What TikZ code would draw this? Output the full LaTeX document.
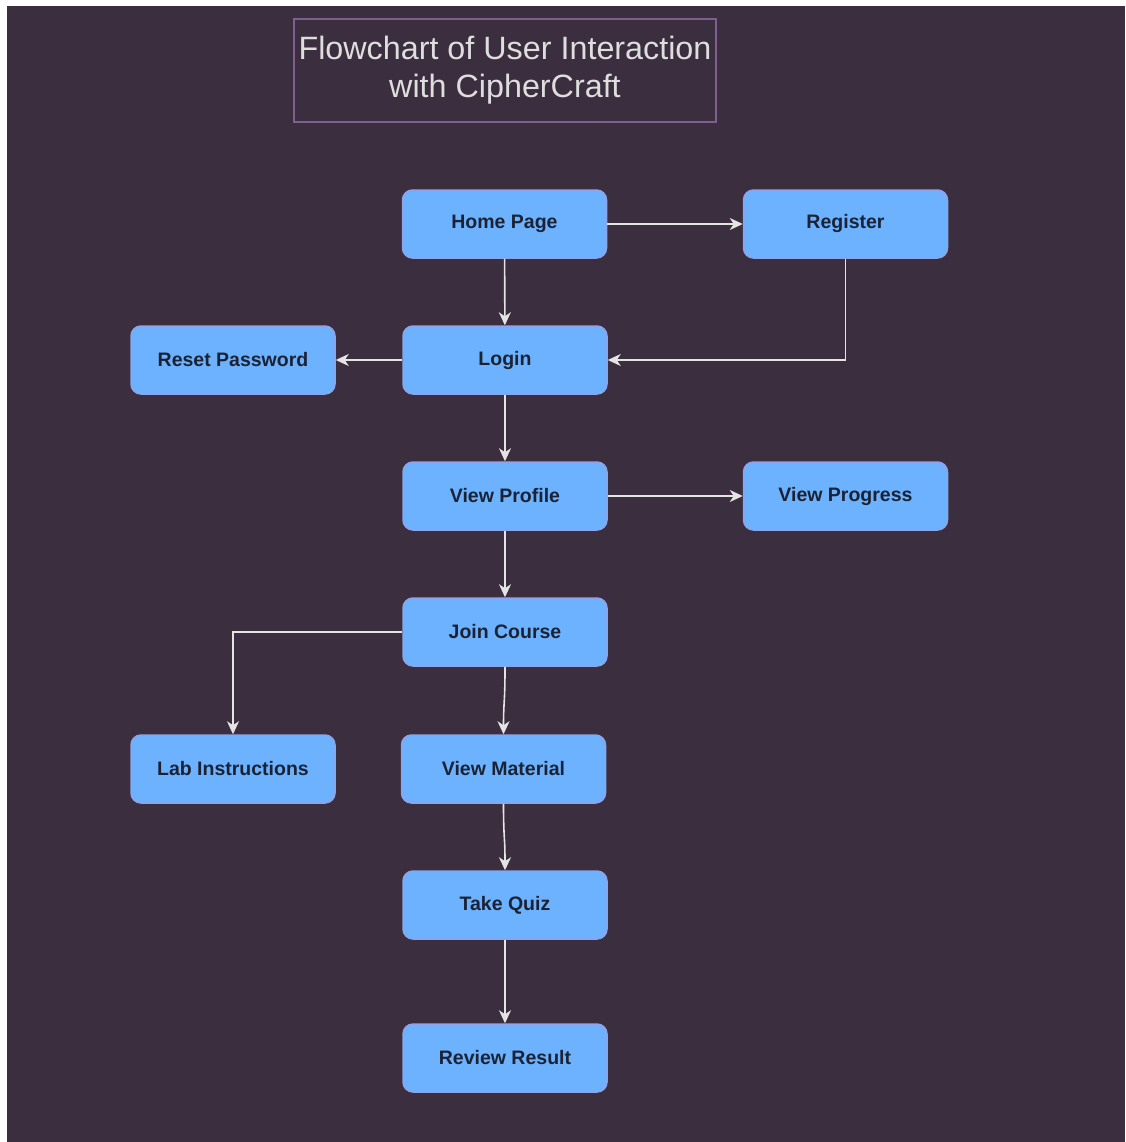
\documentclass[tikz,border=0pt]{standalone}
\usepackage{fontspec}
\setmainfont{Liberation Sans}
\usetikzlibrary{arrows.meta}
\definecolor{bgdark}{HTML}{3B2E3E}
\definecolor{boxfill}{HTML}{6CB2FF}
\definecolor{boxedge}{HTML}{8FA3EC}
\definecolor{boxtext}{HTML}{1B2233}
\definecolor{linkcol}{HTML}{E4E4E4}
\definecolor{titleedge}{HTML}{7E5F8F}
\definecolor{titletext}{HTML}{DEDEDE}
\tikzset{
  stepbox/.style={draw=boxedge, line width=1.5pt, fill=boxfill, rounded corners=10pt,
    minimum width=204pt, minimum height=68pt, inner sep=0pt, text=boxtext,
    font=\fontsize{19.5}{22}\selectfont\bfseries},
  titlebox/.style={draw=titleedge, line width=1.5pt, minimum width=422pt, minimum height=103pt,
    inner sep=0pt, align=center, text=titletext, font=\fontsize{32.3}{38}\selectfont},
  link/.style={draw=linkcol, line width=1.6pt, -{Stealth[length=13pt,width=12pt,inset=4pt]}}
}
\begin{document}
\begin{tikzpicture}[x=1pt,y=-1pt]
% page margin and dark canvas
\fill[white] (0,0) rectangle (1125,1142);
\fill[bgdark] (7,6) rectangle (1125,1142);
\useasboundingbox (0,0) rectangle (1125,1142);

\node[titlebox] (title) at (505,70.5) {Flowchart of User Interaction\\with CipherCraft};

% flow steps
\node[stepbox] (home) at (504.5,224) {Home Page};
\node[stepbox] (register) at (845.5,224) {Register};
\node[stepbox] (reset) at (233,360) {Reset Password};
\node[stepbox] (login) at (505,360) {Login};
\node[stepbox] (profile) at (505,496) {View Profile};
\node[stepbox] (progress) at (845.5,496) {View Progress};
\node[stepbox] (join) at (505,632) {Join Course};
\node[stepbox] (lab) at (233,769) {Lab Instructions};
\node[stepbox] (material) at (503.5,769) {View Material};
\node[stepbox] (quiz) at (505,905) {Take Quiz};
\node[stepbox] (review) at (505,1058) {Review Result};

% connectors
\draw[link] (home) -- (register);
\draw[link] (home) -- (login);
\draw[link] (register.south) |- (login.east);
\draw[link] (login) -- (reset);
\draw[link] (login) -- (profile);
\draw[link] (profile) -- (progress);
\draw[link] (profile) -- (join);
\draw[link] (join.west) -| (lab.north);
\draw[link] (join.south) .. controls (505,705) and (503.5,700) .. (material.north);
\draw[link] (material.south) .. controls (503.5,840) and (505,835) .. (quiz.north);
\draw[link] (quiz) -- (review);
\end{tikzpicture}
\end{document}
